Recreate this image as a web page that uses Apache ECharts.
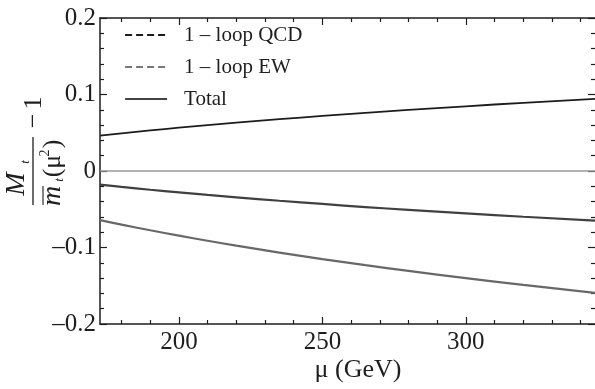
<!DOCTYPE html>
<html>
<head>
<meta charset="utf-8">
<script src="https://cdn.jsdelivr.net/npm/echarts@6/dist/echarts.min.js"></script>
<style>
  html, body { margin: 0; padding: 0; background: #fff; }
  #main { width: 595px; height: 389px; }
</style>
</head>
<body>
<div id="main"></div>
<script>
// renormalization scale mu in GeV
const mu = [172.5, 180, 190, 200, 210, 220, 235, 250, 265, 280, 300, 320, 345]
// M_t / mbar_t(mu^2) - 1
const qcd = [0.0463, 0.0493, 0.0530, 0.0566, 0.0599, 0.0632, 0.0677, 0.0720, 0.0760, 0.0798, 0.0846, 0.0891, 0.0943]
const ew = [-0.0642, -0.0701, -0.0775, -0.0845, -0.0912, -0.0976, -0.1066, -0.1151, -0.1231, -0.1306, -0.1400, -0.1489, -0.1592]
const total = [-0.0179, -0.0208, -0.0245, -0.0279, -0.0313, -0.0344, -0.0389, -0.0431, -0.0471, -0.0508, -0.0554, -0.0598, -0.0649]

const xMajorTicks = [200, 250, 300]
const xMinorTicks = [180, 190, 210, 220, 230, 240, 260, 270, 280, 290, 310, 320, 330, 340]
const xMin = 172.5, xMax = 345
const yMin = -0.2, yMax = 0.2, yStep = 0.1

const FONT = 'Liberation Serif'
const INK = '#1e1e1e'

const zip = (xs, ys) => xs.map((x, i) => [x, ys[i]])

const chart = echarts.init(document.getElementById('main'))

const xAxisBase = (pos, ticks, len, showLabel, showLine) => ({
  type: 'value', position: pos, min: xMin, max: xMax,
  axisLine: { show: showLine, onZero: false, lineStyle: { color: INK, width: 1.5 } },
  axisTick: { show: true, inside: true, length: len, customValues: ticks, lineStyle: { color: INK, width: 1.2 } },
  axisLabel: showLabel ? { show: true, customValues: ticks, margin: 6, fontFamily: FONT, fontSize: 25, color: INK } : { show: false },
  splitLine: { show: false }
})

const yAxisBase = (pos, showLabel) => ({
  type: 'value', position: pos, min: yMin, max: yMax, interval: yStep,
  axisLine: { show: showLabel, onZero: false, lineStyle: { color: INK, width: 1.5 } },
  axisTick: { show: true, inside: true, length: 7, lineStyle: { color: INK, width: 1.2 } },
  minorTick: { show: true, splitNumber: 5, length: 4, lineStyle: { color: INK, width: 1.2 } },
  axisLabel: showLabel ? {
    show: true, margin: 4, fontFamily: FONT, fontSize: 25, color: INK,
    formatter: v => Math.abs(v) < 1e-9 ? '0' : (v < 0 ? '–' : '') + Math.abs(v).toFixed(1)
  } : { show: false },
  splitLine: { show: false }
})

const txt = (text, x, y, size, italic) => ({
  type: 'text', x: x, y: y, rotation: Math.PI / 2,
  style: { text: text, fontFamily: FONT, fontSize: size, fontStyle: italic ? 'italic' : 'normal', fill: INK, align: 'center', verticalAlign: 'middle' }
})

const noSymbol = { opacity: 0 }

const option = {
  animation: false,
  grid: { left: 100, top: 18, right: 0, bottom: 65 },
  legend: {
    orient: 'vertical', left: 124, top: 23, padding: 0,
    itemWidth: 42, itemHeight: 14, itemGap: 8,
    itemStyle: noSymbol,
    textStyle: { fontFamily: FONT, fontSize: 21, color: INK, lineHeight: 24, padding: [0, 0, 0, 12] },
    data: [
      { name: '1 – loop QCD', itemStyle: noSymbol, lineStyle: { type: [7, 4], width: 1.8, color: '#1c1c1c' } },
      { name: '1 – loop EW', itemStyle: noSymbol, lineStyle: { type: [7, 4], width: 1.8, color: '#777' } },
      { name: 'Total', itemStyle: noSymbol, lineStyle: { type: 'solid', width: 2.2, color: '#444' } }
    ]
  },
  xAxis: [
    xAxisBase('bottom', xMajorTicks, 7, true, true),
    xAxisBase('bottom', xMinorTicks, 4, false, false),
    xAxisBase('top', xMajorTicks, 7, false, true),
    xAxisBase('top', xMinorTicks, 4, false, false)
  ],
  yAxis: [yAxisBase('left', true), yAxisBase('right', false)],
  series: [
    {
      name: '1 – loop QCD', type: 'line', symbol: 'none', smooth: true,
      data: zip(mu, qcd), lineStyle: { color: '#1c1c1c', width: 1.8 }, itemStyle: { color: '#1c1c1c' },
      markLine: {
        silent: true, symbol: 'none', label: { show: false },
        lineStyle: { color: '#999', width: 1.5, type: 'solid' },
        data: [{ yAxis: 0 }]
      }
    },
    {
      name: '1 – loop EW', type: 'line', symbol: 'none', smooth: true,
      data: zip(mu, ew), lineStyle: { color: '#686868', width: 2.2 }, itemStyle: { color: '#686868' }
    },
    {
      name: 'Total', type: 'line', symbol: 'none', smooth: true,
      data: zip(mu, total), lineStyle: { color: '#404040', width: 2.2 }, itemStyle: { color: '#404040' }
    }
  ],
  graphic: [
    // y axis title: M_t / mbar_t(mu^2) - 1, rotated
    txt('M', 17, 184, 28, true),
    txt('t', 26, 162, 13, true),
    { type: 'line', shape: { x1: 33, y1: 137, x2: 33, y2: 205 }, style: { stroke: INK, lineWidth: 1.3 } },
    { type: 'line', shape: { x1: 43, y1: 186, x2: 43, y2: 205 }, style: { stroke: INK, lineWidth: 1.1 } },
    txt('m', 53, 196, 28, true),
    txt('t', 60, 180, 13, true),
    txt('(μ', 53, 166, 26, false),
    txt('2', 45, 153, 14, false),
    txt(')', 53, 144, 26, false),
    txt('−', 34, 121, 26, false),
    txt('1', 34, 103, 26, false),
    // x axis title
    { type: 'text', x: 358, y: 370, style: { text: 'μ (GeV)', fontFamily: FONT, fontSize: 26, fill: INK, align: 'center', verticalAlign: 'middle' } }
  ]
}

chart.setOption(option)
</script>
</body>
</html>
